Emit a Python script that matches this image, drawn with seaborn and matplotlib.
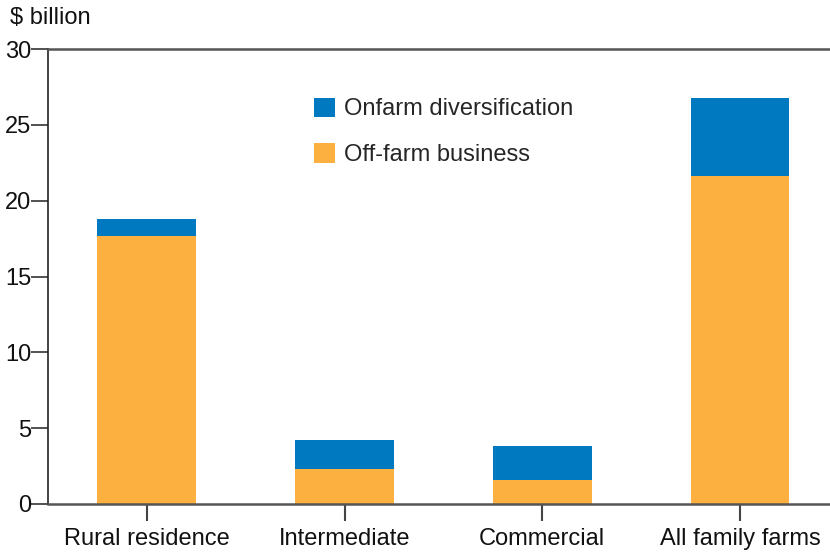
import matplotlib
matplotlib.use("Agg")
import matplotlib.pyplot as plt
import seaborn as sns
import pandas as pd
from matplotlib.patches import Patch

categories = ["Rural residence", "Intermediate", "Commercial", "All family farms"]
off_farm = [17.7, 2.3, 1.55, 21.6]
onfarm = [1.1, 1.9, 2.25, 5.15]
yticks = [0, 5, 10, 15, 20, 25, 30]

BLUE = "#0079C1"
ORANGE = "#FBB040"

sns.set_theme(style="white")
plt.rcParams["font.family"] = ["Liberation Sans", "DejaVu Sans"]

df = pd.DataFrame({"cat": categories, "off": off_farm, "on": onfarm})
df["total"] = df["off"] + df["on"]

fig = plt.figure(figsize=(8.30, 5.52), dpi=100)
ax = fig.add_axes([48/830, 48/552, 1 - 48/830, 455/552])

sns.barplot(data=df, x="cat", y="total", color=BLUE, width=0.5, ax=ax,
            saturation=1, edgecolor="none", linewidth=0)
sns.barplot(data=df, x="cat", y="off", color=ORANGE, width=0.5, ax=ax,
            saturation=1, edgecolor="none", linewidth=0)

FS = 17
ax.set_xlim(-0.5, 3.455)
ax.set_ylim(0, 30)
ax.set_yticks(yticks)
ax.set_yticklabels([str(v) for v in yticks], fontsize=FS, color="#111111")
ax.set_xticks(range(len(categories)))
ax.set_xticklabels(categories, fontsize=FS, color="#111111")
ax.set_xlabel("")
ax.set_ylabel("")

ax.spines["left"].set_color("#222222")
ax.spines["left"].set_linewidth(1.2)
for s in ["top", "bottom"]:
    ax.spines[s].set_color("#555555")
    ax.spines[s].set_linewidth(1.8)
ax.spines["right"].set_visible(False)

ax.tick_params(axis="y", direction="out", length=12, width=1.2, color="#333333", pad=0, left=True)
ax.tick_params(axis="x", direction="out", length=12, width=1.5, color="#444444", pad=5, bottom=True)

handles = [Patch(facecolor=BLUE, edgecolor="none"), Patch(facecolor=ORANGE, edgecolor="none")]
ax.legend(handles, ["Onfarm diversification", "Off-farm business"], frameon=False,
          fontsize=FS, handlelength=0.9, handleheight=0.9, handletextpad=0.35,
          labelspacing=0.95, loc="upper left", bbox_to_anchor=(0.313, 0.94))

fig.text(10/830, 1 - 18/552, "$ billion", fontsize=FS, va="center", ha="left", color="#111111")

fig.savefig("out.png", dpi=100)
